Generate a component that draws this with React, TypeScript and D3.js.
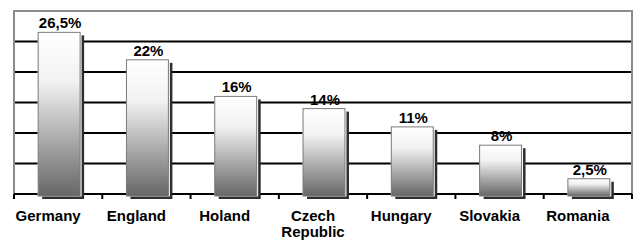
import React, { useEffect, useRef } from "react";
import * as d3 from "d3";

const countries = ["Germany", "England", "Holand", "Czech Republic", "Hungary", "Slovakia", "Romania"];
const shares = [26.5, 22, 16, 14, 11, 8, 2.5];
const valueLabels = ["26,5%", "22%", "16%", "14%", "11%", "8%", "2,5%"];
const gridTicks = [5, 10, 15, 20, 25];

const App: React.FC = () => {
  const svgRef = useRef<SVGSVGElement>(null);

  useEffect(() => {
    if (!svgRef.current) return;
    const width = 638;
    const height = 241;
    const margin = { top: 11, right: 5, bottom: 47, left: 14 };

    const svg = d3.select(svgRef.current);
    svg.selectAll("*").remove();
    svg.attr("width", width).attr("height", height);

    const defs = svg.append("defs");
    const grad = defs
      .append("linearGradient")
      .attr("id", "barGrad")
      .attr("x1", 0)
      .attr("y1", 0)
      .attr("x2", 0)
      .attr("y2", 1);
    grad.append("stop").attr("offset", "0%").attr("stop-color", "#ffffff");
    grad.append("stop").attr("offset", "30%").attr("stop-color", "#f2f2f2");
    grad.append("stop").attr("offset", "100%").attr("stop-color", "#666666");

    const x = d3
      .scaleBand<string>()
      .domain(countries)
      .range([margin.left, width - margin.right - 1])
      .padding(0);

    const y = d3
      .scaleLinear()
      .domain([0, 30])
      .range([height - margin.bottom, margin.top]);

    const x0 = margin.left;
    const x1 = width - margin.right - 1;

    // gridlines
    svg
      .append("g")
      .selectAll("line")
      .data(gridTicks)
      .enter()
      .append("line")
      .attr("x1", x0)
      .attr("x2", x1)
      .attr("y1", (d) => y(d))
      .attr("y2", (d) => y(d))
      .attr("stroke", "#000")
      .attr("stroke-width", 2);

    // plot border (top, left, right)
    svg
      .append("path")
      .attr("d", `M${x0},${y(0)}V${y(30)}H${x1}V${y(0)}`)
      .attr("fill", "none")
      .attr("stroke", "#8c8c8c")
      .attr("stroke-width", 2);

    // baseline + ticks
    svg
      .append("line")
      .attr("x1", x0)
      .attr("x2", x1)
      .attr("y1", y(0))
      .attr("y2", y(0))
      .attr("stroke", "#000")
      .attr("stroke-width", 2);

    const bounds = countries.map((c) => x(c)!).concat([x1]);
    svg
      .append("g")
      .selectAll("line")
      .data(bounds)
      .enter()
      .append("line")
      .attr("x1", (d) => d)
      .attr("x2", (d) => d)
      .attr("y1", y(0))
      .attr("y2", y(0) + 5)
      .attr("stroke", "#000")
      .attr("stroke-width", 2);

    const barW = x.bandwidth() * 0.475;
    const bx = (c: string) => x(c)! + (x.bandwidth() - barW) / 2 + 1;
    const data = countries.map((c, i) => ({ c, v: shares[i], label: valueLabels[i] }));

    const bars = svg.append("g").selectAll("g").data(data).enter().append("g");

    // shadow
    bars
      .append("rect")
      .attr("x", (d) => bx(d.c) + 4)
      .attr("y", (d) => y(d.v) + 3)
      .attr("width", barW)
      .attr("height", (d) => y(0) + 2 - y(d.v))
      .attr("fill", "#2e2e2e");

    bars
      .append("rect")
      .attr("x", (d) => bx(d.c) - 0.5)
      .attr("y", (d) => y(d.v) - 0.5)
      .attr("width", barW + 2)
      .attr("height", (d) => y(0) + 3 - y(d.v))
      .attr("fill", "#fff");

    bars
      .append("rect")
      .attr("x", (d) => bx(d.c))
      .attr("y", (d) => y(d.v))
      .attr("width", barW)
      .attr("height", (d) => y(0) + 2 - y(d.v))
      .attr("fill", "url(#barGrad)")
      .attr("stroke", "#7a7a7a")
      .attr("stroke-width", 1);

    bars
      .append("text")
      .attr("x", (d) => bx(d.c) + barW / 2 + 1)
      .attr("y", (d) => y(d.v) - 4)
      .attr("text-anchor", "middle")
      .style("font-family", "'Liberation Sans', Arial, sans-serif")
      .style("font-weight", "bold")
      .style("font-size", "15px")
      .text((d) => d.label);

    // category labels
    const labels = svg
      .append("g")
      .selectAll("text")
      .data(countries)
      .enter()
      .append("text")
      .attr("x", (d) => x(d)! + x.bandwidth() / 2 - 10)
      .attr("y", 221)
      .attr("text-anchor", "middle")
      .style("font-family", "'Liberation Sans', Arial, sans-serif")
      .style("font-weight", "bold")
      .style("font-size", "15px");

    labels.each(function (d) {
      const parts = d.split(" ");
      const t = d3.select(this);
      parts.forEach((p, i) => {
        t.append("tspan")
          .attr("x", x(d)! + x.bandwidth() / 2 - 10)
          .attr("dy", i === 0 ? 0 : 16)
          .text(p);
      });
    });
  }, []);

  return (
    <svg
      ref={svgRef}
      style={{ position: "absolute", left: 0, top: 0, background: "#fff" }}
    ></svg>
  );
};

export default App;
